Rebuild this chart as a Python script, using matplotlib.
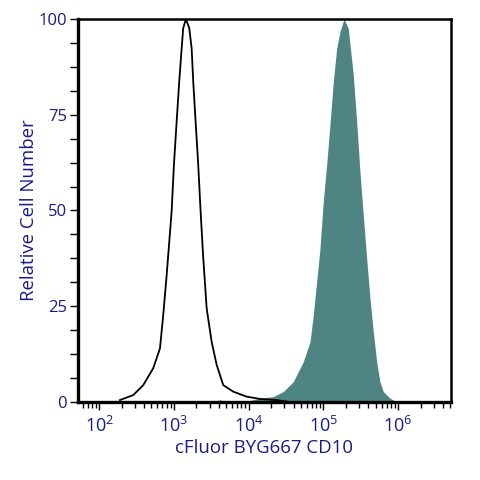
import matplotlib
matplotlib.use("Agg")
import matplotlib.pyplot as plt
import numpy as np
from matplotlib.ticker import LogLocator, FixedLocator, NullFormatter

# unstained / isotype control (open black line)
ctrl_x = [189, 285, 388, 528, 650, 719, 798, 931, 1000, 1087, 1177, 1268, 1331,
          1448, 1603, 1726, 1813, 1950, 2113, 2275, 2468, 2740, 3197, 3730,
          4573, 6223, 9400, 14150, 23700, 35700]
ctrl_y = [0.5, 1.8, 4.4, 8.8, 14, 22.7, 33, 49.7, 62, 73.2, 83.6, 92.3, 97.6,
          100, 97.6, 92.3, 83.6, 73.2, 62, 49.7, 37.6, 24.5, 15.7, 9.7,
          4.4, 2.7, 1.4, 0.8, 0.5, 0]

# CD10 stained sample (filled)
cd10_x = [3334, 4140, 5140, 9400, 14150, 21300, 29000, 39500, 53800, 66200,
          73300, 81300, 90000, 99700, 110700, 122400, 135700, 150600, 166800,
          188600, 215400, 251300, 279000, 309000, 342000, 379500, 420500,
          465600, 516600, 571600, 633700, 778000, 957000]
cd10_y = [0, 0.6, 0, 0.2, 1, 1.4, 2.7, 5.3, 10.5, 15.7, 22.7, 31.4, 40, 52.3,
          62, 72.3, 83.6, 92.3, 96.7, 100, 97.6, 85.4, 73.2, 60, 48.8, 37.5,
          27, 18.4, 10.5, 5.3, 2.7, 1, 0]

navy = "#1a1a88"
teal = "#4e8583"

plt.rcParams['font.family'] = ['Open Sans', 'DejaVu Sans']

fig = plt.figure(figsize=(4.8, 4.8), dpi=100)
ax = fig.add_axes([0.1625, 0.1625, 0.777, 0.798])

ax.fill_between(cd10_x, cd10_y, 0, color=teal, linewidth=0)
ax.plot(ctrl_x, ctrl_y, color="black", linewidth=1.3)

ax.set_xscale("log")
ax.set_xlim(52, 5.1e6)
ax.set_ylim(0, 100)

ax.xaxis.set_major_locator(FixedLocator([1e2, 1e3, 1e4, 1e5, 1e6]))
ax.xaxis.set_minor_locator(LogLocator(base=10, subs=np.arange(2, 10)))
ax.xaxis.set_minor_formatter(NullFormatter())
ax.set_xticklabels([r"$\mathregular{10^{2}}$", r"$\mathregular{10^{3}}$",
                    r"$\mathregular{10^{4}}$", r"$\mathregular{10^{5}}$",
                    r"$\mathregular{10^{6}}$"])

ax.set_yticks([0, 25, 50, 75, 100])
ax.yaxis.set_minor_locator(FixedLocator(np.arange(0, 100, 6.25)))

ax.tick_params(axis="both", which="both", direction="out", colors="black",
               labelcolor=navy)
ax.tick_params(axis="x", which="major", length=6, width=1, labelsize=13, pad=4)
ax.tick_params(axis="x", which="minor", length=4, width=1)
ax.tick_params(axis="y", which="major", length=6, width=1, labelsize=12, pad=2)
ax.tick_params(axis="y", which="minor", length=6, width=1)

for side in ["left", "bottom"]:
    ax.spines[side].set_linewidth(2.4)
for side in ["top", "right"]:
    ax.spines[side].set_linewidth(1.8)

ax.set_xlabel("cFluor BYG667 CD10", color=navy, fontsize=13.4, labelpad=2)
ax.set_ylabel("Relative Cell Number", color=navy, fontsize=13.4, labelpad=0)

fig.savefig("out.png", dpi=100)
